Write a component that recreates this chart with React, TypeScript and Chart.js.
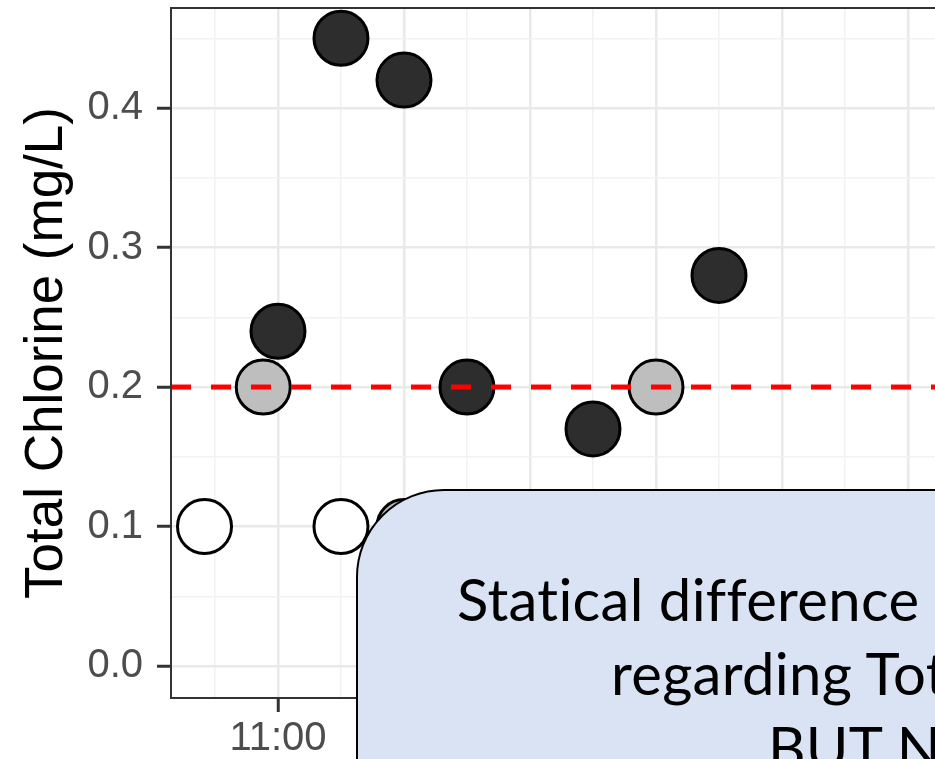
import React, { useEffect, useRef } from "react";
import { Chart, registerables } from "chart.js";

Chart.register(...registerables);

// ---- data ----
const blackTimes = [11.0, 11.5, 12.0, 12.5, 13.5, 14.5];
const blackValues = [0.24, 0.45, 0.42, 0.2, 0.17, 0.28];
const grayTimes = [10.883, 12.0, 14.0];
const grayValues = [0.2, 0.1, 0.2];
const whiteTimes = [10.417, 11.5];
const whiteValues = [0.1, 0.1];
const thresholdValue = 0.2;

const yTickValues = [0, 0.05, 0.1, 0.15, 0.2, 0.25, 0.3, 0.35, 0.4, 0.45];
const yMajorTicks = [0, 0.1, 0.2, 0.3, 0.4];
const xTickHours = [10.5, 11, 11.5, 12, 12.5, 13, 13.5, 14, 14.5, 15, 15.5, 16, 16.5, 17, 17.5];
const xMajorHours = [11, 12, 13, 14, 15, 16, 17];
const xRange = [10.151, 17.5];
const yRange = [-0.0229, 0.4717];
const yTitle = "Total Chlorine (mg/L)";
const calloutLines = [
  "Statical difference between sites",
  "regarding Total Chlorine",
  "BUT NOT between seasons",
];

const isIn = (v: number, list: number[]) => list.some((m) => Math.abs(m - v) < 1e-6);
const fmtHour = (h: number) => {
  const hh = Math.floor(h + 1e-9);
  const mm = Math.round((h - hh) * 60);
  return `${hh}:${String(mm).padStart(2, "0")}`;
};
const pts = (xs: number[], ys: number[]) => xs.map((x, i) => ({ x, y: ys[i] }));

const CANVAS_W = 1100;
const CANVAS_H = 759;

const panelBorder = {
  id: "panelBorder",
  afterDraw(chart: any) {
    const { ctx, chartArea } = chart;
    ctx.save();
    ctx.strokeStyle = "#333333";
    ctx.lineWidth = 2;
    ctx.strokeRect(chartArea.left, chartArea.top, chartArea.right - chartArea.left, chartArea.bottom - chartArea.top);
    ctx.restore();
  },
};

export default function App() {
  const ref = useRef<HTMLCanvasElement | null>(null);

  useEffect(() => {
    if (!ref.current) return;
    const pointStyle = {
      type: "scatter" as const,
      borderColor: "#000000",
      borderWidth: 3,
      pointRadius: 27,
      pointHoverRadius: 27,
      order: 1,
      clip: false as any,
    };
    const chart = new Chart(ref.current, {
      type: "scatter",
      data: {
        datasets: [
          {
            type: "line",
            data: [
              { x: xRange[0], y: thresholdValue },
              { x: xRange[1], y: thresholdValue },
            ],
            borderColor: "#ff0000",
            borderWidth: 5,
            borderDash: [20, 20],
            pointRadius: 0,
            showLine: true,
            fill: false,
            order: 0,
          } as any,
          { ...pointStyle, data: pts(blackTimes, blackValues), backgroundColor: "#2d2d2d" },
          { ...pointStyle, data: pts(grayTimes, grayValues), backgroundColor: "#bebebe" },
          { ...pointStyle, data: pts(whiteTimes, whiteValues), backgroundColor: "#ffffff" },
        ],
      },
      options: {
        animation: false,
        responsive: false,
        devicePixelRatio: 1,
        events: [],
        layout: { autoPadding: false, padding: { left: 0, top: 8, right: 3, bottom: 0 } },
        plugins: { legend: { display: false }, tooltip: { enabled: false } },
        scales: {
          x: {
            type: "linear",
            min: xRange[0],
            max: xRange[1],
            afterBuildTicks: (s: any) => {
              s.ticks = xTickHours.map((v) => ({ value: v }));
            },
            afterFit: (s: any) => {
              s.height = 61;
              s.paddingLeft = 0;
              s.paddingRight = 0;
            },
            ticks: {
              autoSkip: false,
              maxRotation: 0,
              minRotation: 0,
              padding: 3,
              color: "#4d4d4d",
              font: { family: "'Liberation Sans', Arial, sans-serif", size: 40 },
              callback: (v: any) => (isIn(Number(v), xMajorHours) ? fmtHour(Number(v)) : ""),
            },
            grid: {
              color: (c: any) => (isIn(c.tick?.value, xMajorHours) ? "#e9e9e9" : "#f2f2f2"),
              lineWidth: (c: any) => (isIn(c.tick?.value, xMajorHours) ? 2.5 : 1.5),
              tickColor: (c: any) => (isIn(c.tick?.value, xMajorHours) ? "#333333" : "rgba(0,0,0,0)"),
              tickLength: 14,
              tickWidth: 3,
              drawTicks: true,
            },
            border: { display: false },
          },
          y: {
            type: "linear",
            position: "left",
            min: yRange[0],
            max: yRange[1],
            afterBuildTicks: (s: any) => {
              s.ticks = yTickValues.map((v) => ({ value: v }));
            },
            afterFit: (s: any) => {
              s.width = 171;
              s.paddingTop = 0;
              s.paddingBottom = 0;
            },
            ticks: {
              padding: 14,
              color: "#4d4d4d",
              font: { family: "'Liberation Sans', Arial, sans-serif", size: 40 },
              callback: (v: any) => (isIn(Number(v), yMajorTicks) ? Number(v).toFixed(1) : ""),
            },
            grid: {
              color: (c: any) => (isIn(c.tick?.value, yMajorTicks) ? "#e9e9e9" : "#f2f2f2"),
              lineWidth: (c: any) => (isIn(c.tick?.value, yMajorTicks) ? 2.5 : 1.5),
              tickColor: (c: any) => (isIn(c.tick?.value, yMajorTicks) ? "#333333" : "rgba(0,0,0,0)"),
              tickLength: 14,
              tickWidth: 3,
              drawTicks: true,
            },
            border: { display: false },
            title: {
              display: true,
              text: yTitle,
              color: "#000000",
              font: { family: "'Liberation Sans', Arial, sans-serif", size: 53 },
              padding: { top: 16, bottom: 0 },
            },
          },
        },
      },
      plugins: [panelBorder],
    });
    return () => chart.destroy();
  }, []);

  const lineStyle: React.CSSProperties = {
    position: "absolute",
    whiteSpace: "nowrap",
    fontFamily: "Lato, 'Open Sans', sans-serif",
    fontSize: 58,
    letterSpacing: 0.3,
    lineHeight: 1,
    color: "#000000",
  };

  return (
    <div
      style={{
        position: "absolute",
        left: 0,
        top: 0,
        width: 935,
        height: 759,
        overflow: "hidden",
        background: "#ffffff",
      }}
    >
      <canvas
        ref={ref}
        width={CANVAS_W}
        height={CANVAS_H}
        style={{ display: "block", width: CANVAS_W, height: CANVAS_H }}
      />
      <div
        style={{
          position: "absolute",
          left: 356,
          top: 489,
          width: 900,
          height: 500,
          boxSizing: "border-box",
          background: "#dae3f3",
          border: "2.5px solid #000000",
          borderRadius: 88,
        }}
      >
        <div style={{ ...lineStyle, left: 99, top: 79 }}>{calloutLines[0]}</div>
        <div style={{ ...lineStyle, left: 253, top: 153 }}>{calloutLines[1]}</div>
        <div style={{ ...lineStyle, left: 410, top: 227 }}>{calloutLines[2]}</div>
      </div>
    </div>
  );
}
